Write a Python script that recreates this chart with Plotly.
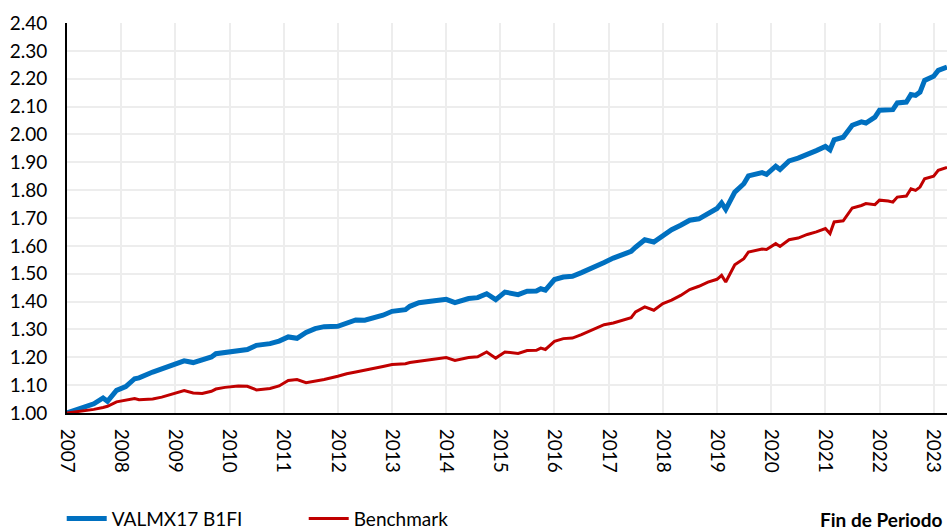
import plotly.graph_objects as go

fechas = [
    "2007-01", "2007-04", "2007-06", "2007-07", "2007-09", "2007-10", "2007-12",
    "2008-02", "2008-04", "2008-05", "2008-08", "2008-10",
    "2009-01", "2009-03", "2009-05", "2009-07", "2009-09", "2009-10", "2009-12",
    "2010-03", "2010-05", "2010-07", "2010-10", "2010-12",
    "2011-02", "2011-04", "2011-06", "2011-08", "2011-10",
    "2012-01", "2012-03", "2012-05", "2012-07", "2012-10", "2012-11",
    "2013-01", "2013-04", "2013-05", "2013-07", "2013-10",
    "2014-01", "2014-03", "2014-06", "2014-08", "2014-10", "2014-12",
    "2015-02", "2015-05", "2015-07", "2015-09", "2015-10", "2015-11",
    "2016-01", "2016-03", "2016-05", "2016-07", "2016-10", "2016-12",
    "2017-02", "2017-04", "2017-06", "2017-07", "2017-09", "2017-11",
    "2018-01", "2018-03", "2018-05", "2018-07", "2018-09", "2018-11",
    "2019-01", "2019-02", "2019-03", "2019-05", "2019-07", "2019-08", "2019-11", "2019-12",
    "2020-02", "2020-03", "2020-05", "2020-07", "2020-09", "2020-11",
    "2021-01", "2021-02", "2021-03", "2021-05", "2021-07", "2021-09", "2021-10", "2021-12",
    "2022-01", "2022-03", "2022-04", "2022-05", "2022-07", "2022-08", "2022-09", "2022-10", "2022-11",
    "2023-01", "2023-02", "2023-04",
]

valmx17 = [
    1.000, 1.015, 1.025, 1.033, 1.054, 1.042, 1.081,
    1.095, 1.123, 1.126, 1.147, 1.159,
    1.179, 1.187, 1.181, 1.192, 1.201, 1.213, 1.218,
    1.223, 1.228, 1.243, 1.249, 1.258,
    1.273, 1.268, 1.289, 1.303, 1.310,
    1.311, 1.321, 1.334, 1.333, 1.344, 1.351,
    1.365, 1.371, 1.383, 1.396, 1.402,
    1.408, 1.396, 1.411, 1.414, 1.428, 1.407,
    1.434, 1.425, 1.437, 1.438, 1.446, 1.441,
    1.479, 1.488, 1.491, 1.504, 1.524, 1.540,
    1.556, 1.566, 1.580, 1.595, 1.622, 1.614,
    1.638, 1.658, 1.674, 1.692, 1.697, 1.718,
    1.734, 1.754, 1.731, 1.793, 1.823, 1.851, 1.863, 1.857,
    1.886, 1.874, 1.905, 1.915, 1.931, 1.942,
    1.957, 1.945, 1.981, 1.990, 2.033, 2.045, 2.041, 2.062,
    2.087, 2.087, 2.089, 2.113, 2.116, 2.143, 2.140, 2.152, 2.194,
    2.209, 2.230, 2.242,
]

benchmark = [
    1.000, 1.007, 1.010, 1.013, 1.020, 1.024, 1.040,
    1.047, 1.052, 1.048, 1.050, 1.057,
    1.070, 1.081, 1.072, 1.070, 1.078, 1.086, 1.092,
    1.097, 1.096, 1.083, 1.088, 1.097,
    1.117, 1.120, 1.109, 1.115, 1.120,
    1.132, 1.141, 1.147, 1.153, 1.163, 1.167,
    1.174, 1.177, 1.181, 1.186, 1.193,
    1.199, 1.189, 1.199, 1.202, 1.219, 1.197,
    1.219, 1.214, 1.224, 1.225, 1.233, 1.228,
    1.257, 1.267, 1.269, 1.281, 1.303, 1.317,
    1.323, 1.332, 1.342, 1.363, 1.381, 1.369,
    1.393, 1.405, 1.422, 1.443, 1.455, 1.470,
    1.480, 1.494, 1.470, 1.532, 1.554, 1.578, 1.589, 1.587,
    1.608, 1.598, 1.622, 1.628, 1.641, 1.650,
    1.662, 1.644, 1.686, 1.690, 1.736, 1.745, 1.752, 1.748,
    1.764, 1.761, 1.757, 1.775, 1.779, 1.805, 1.799, 1.811, 1.841,
    1.850, 1.871, 1.882,
]

y_ticks = [round(1.0 + 0.1 * i, 2) for i in range(15)]
y_labels = [f"{v:.2f}" for v in y_ticks]
x_years = [f"{y}-01-01" for y in range(2007, 2024)]
x_labels = [str(y) for y in range(2007, 2024)]

FONT = "Lato, 'Open Sans', sans-serif"
FS = 19

fig = go.Figure()
fig.add_trace(go.Scatter(
    x=fechas, y=valmx17, mode="lines", name="VALMX17 B1FI",
    line=dict(color="#0070C0", width=5),
))
fig.add_trace(go.Scatter(
    x=fechas, y=benchmark, mode="lines", name="Benchmark",
    line=dict(color="#C00000", width=3),
))

fig.update_layout(
    width=947, height=531,
    margin=dict(l=67, r=0, t=23, b=118, autoexpand=False),
    paper_bgcolor="white", plot_bgcolor="white",
    font=dict(family=FONT, size=FS, color="black"),
    showlegend=True,
    legend=dict(
        orientation="h", x=-0.006, xanchor="left", y=-0.271, yanchor="middle",
        font=dict(family=FONT, size=FS, color="black"),
        entrywidth=187, entrywidthmode="pixels",
        itemwidth=40, traceorder="normal",
        bgcolor="rgba(0,0,0,0)",
    ),
    annotations=[dict(
        text="<b>Fin de Periodo</b>", xref="paper", yref="paper",
        x=0.998, xanchor="right", y=-0.273, yanchor="middle",
        showarrow=False, font=dict(family=FONT, size=FS, color="black"),
    )],
)

fig.update_xaxes(
    type="date", range=["2007-01-01", "2023-04-01"], automargin=False,
    tickmode="array", tickvals=x_years, ticktext=x_labels,
    tickangle=90, ticks="", showgrid=True, gridcolor="#EDEDED", gridwidth=1.5,
    showline=True, linecolor="black", linewidth=2, zeroline=False,
    ticklabelstandoff=10,
)
fig.update_yaxes(
    range=[1.0, 2.4], tickmode="array", tickvals=y_ticks, ticktext=y_labels,
    automargin=False,
    ticks="", showgrid=True, gridcolor="#EDEDED", gridwidth=1.5,
    showline=True, linecolor="black", linewidth=2, zeroline=False,
    ticklabelstandoff=14,
)

fig.write_html(
    "out.html",
    config={"displayModeBar": False},
    post_script="document.body.style.margin='0';document.body.style.overflow='hidden';",
)
